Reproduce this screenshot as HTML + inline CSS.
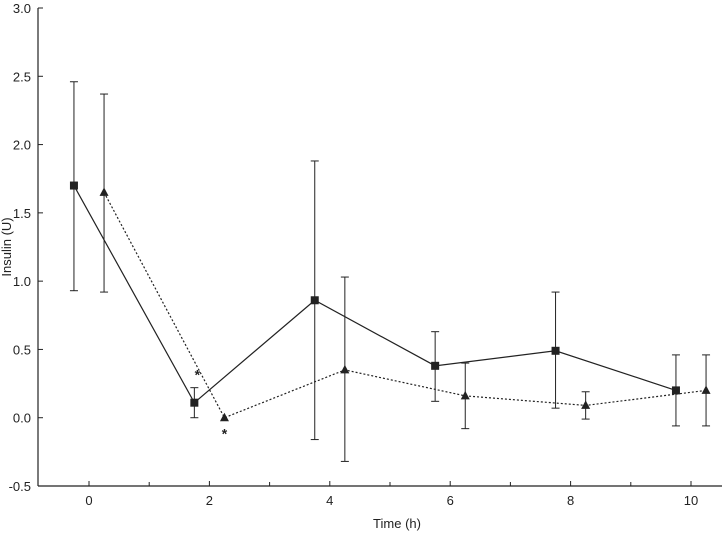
<!DOCTYPE html>
<html><head><meta charset="utf-8"><style>
html,body{margin:0;padding:0;background:#fff;}
svg{display:block;font-family:"Liberation Sans",Arial,sans-serif;}
</style></head><body>
<svg id="chart" width="722" height="535"></svg>
<script>
const xTicks=[0,2,4,6,8,10];
const xMinor=[1,3,5,7,9];
const yTicks=[-0.5,0.0,0.5,1.0,1.5,2.0,2.5,3.0];
const sqTimes=[-0.25,1.75,3.75,5.75,7.75,9.75];
const sqVals=[1.70,0.11,0.86,0.38,0.49,0.20];
const sqLo=[0.93,0.00,-0.16,0.12,0.07,-0.06];
const sqHi=[2.46,0.22,1.88,0.63,0.92,0.46];
const triTimes=[0.25,2.25,4.25,6.25,8.25,10.25];
const triVals=[1.65,0.00,0.35,0.16,0.09,0.20];
const triLo=[0.92,0.00,-0.32,-0.08,-0.01,-0.06];
const triHi=[2.37,0.00,1.03,0.40,0.19,0.46];
const starT=[1.8,2.25];
const starV=[0.33,-0.10];

const NS="http://www.w3.org/2000/svg";
const svg=document.getElementById('chart');
const X=t=>89+t*60.2;
const Y=v=>486-(v+0.5)*136.57;
function el(tag,attrs,parent){const e=document.createElementNS(NS,tag);for(const k in attrs)e.setAttribute(k,attrs[k]);(parent||svg).appendChild(e);return e;}

const axes=el('g',{});


el('line',{x1:38,y1:486,x2:722,y2:486,stroke:'#222','stroke-width':1.2},axes);
el('line',{x1:38,y1:8,x2:38,y2:486,stroke:'#222','stroke-width':1.2},axes);

xTicks.forEach(t=>{
  el('line',{x1:X(t),y1:486,x2:X(t),y2:481,stroke:'#222'},axes);
  const tx=el('text',{x:X(t),y:505,'text-anchor':'middle','font-size':13,fill:'#222'},axes);
  tx.textContent=t;
  
  
});
xMinor.forEach(t=>{el('line',{x1:X(t),y1:486,x2:X(t),y2:482,stroke:'#222'},axes);});
yTicks.forEach(v=>{
  el('line',{x1:38,y1:Y(v),x2:43,y2:Y(v),stroke:'#222'},axes);
  const tx=el('text',{x:31,y:Y(v)+5,'text-anchor':'end','font-size':13,fill:'#222'},axes);
  tx.textContent=v.toFixed(1);
  
  
});
const xt=el('text',{x:397,y:528,'text-anchor':'middle','font-size':13,fill:'#222'});
xt.textContent='Time (h)';


const yt=el('text',{x:11,y:247,'text-anchor':'middle','font-size':13,fill:'#222',transform:'rotate(-90 11 247)'});
yt.textContent='Insulin (U)';



function series(times,vals,lo,hi,dash,marker,name){
  const g=el('g',{});
  
  
  const pts=times.map((t,i)=>X(t)+','+Y(vals[i])).join(' ');
  const attrs={points:pts,fill:'none',stroke:'#222','stroke-width':1.2};
  if(dash)attrs['stroke-dasharray']=dash;
  el('polyline',attrs,g);
  times.forEach((t,i)=>{
    const x=X(t);
    if(hi[i]!==lo[i]){
      el('line',{x1:x,y1:Y(lo[i]),x2:x,y2:Y(hi[i]),stroke:'#222'},g);
      el('line',{x1:x-4,y1:Y(lo[i]),x2:x+4,y2:Y(lo[i]),stroke:'#222'},g);
      el('line',{x1:x-4,y1:Y(hi[i]),x2:x+4,y2:Y(hi[i]),stroke:'#222'},g);
    }
    const y=Y(vals[i]);
    let m;
    if(marker==='sq')m=el('rect',{x:x-4,y:y-4,width:8,height:8,fill:'#222'},g);
    else m=el('polygon',{points:`${x},${y-5} ${x-4.5},${y+3.5} ${x+4.5},${y+3.5}`,fill:'#222'},g);
    
    
  });
}
series(sqTimes,sqVals,sqLo,sqHi,null,'sq','series-square');
series(triTimes,triVals,triLo,triHi,'2,2','tri','series-triangle');

starT.forEach((t,i)=>{
  const s=el('text',{x:X(t),y:Y(starV[i])+7,'text-anchor':'middle','font-size':14,'font-weight':'bold',fill:'#222'});
  s.textContent='*';
  
  
});
</script>
</body></html>
